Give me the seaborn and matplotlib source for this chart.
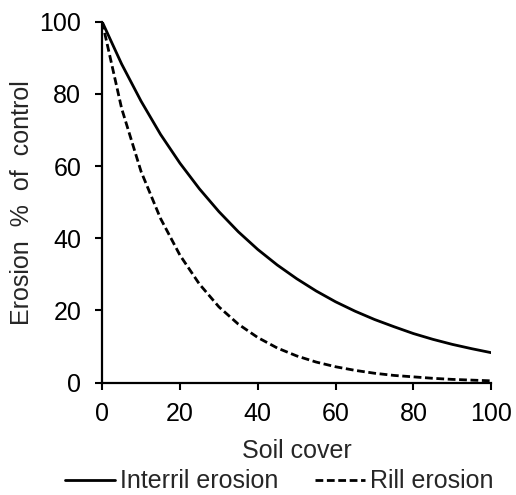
import numpy as np
import pandas as pd
import matplotlib
matplotlib.use("Agg")
import matplotlib.pyplot as plt
import seaborn as sns

# values
soil_cover = [0, 5, 10, 15, 20, 25, 30, 35, 40, 45, 50,
              55, 60, 65, 70, 75, 80, 85, 90, 95, 100]
interril = [100, 88.3, 78.0, 68.8, 60.8, 53.7, 47.4, 41.8, 36.9, 32.6, 28.8,
            25.4, 22.4, 19.8, 17.5, 15.5, 13.6, 12.0, 10.6, 9.4, 8.3]
rill = [100, 76.0, 58.5, 45.5, 35.3, 27.3, 21.0, 16.2, 12.5, 9.6, 7.4,
        5.7, 4.4, 3.4, 2.6, 2.0, 1.6, 1.2, 0.9, 0.7, 0.5]
series_names = ["Interril erosion", "Rill erosion"]

df = pd.DataFrame({
    "Soil cover": soil_cover * 2,
    "Erosion": interril + rill,
    "series": [series_names[0]] * len(soil_cover) + [series_names[1]] * len(soil_cover),
})

sns.set_style("ticks")
plt.rcParams["font.family"] = ["Liberation Sans", "DejaVu Sans"]
fs = 18

fig = plt.figure(figsize=(5.16, 4.95), dpi=100)
ax = fig.add_axes([0.198, 0.227, 0.754, 0.729])

sns.lineplot(data=df, x="Soil cover", y="Erosion", style="series",
             color="black", linewidth=2.0,
             dashes={series_names[0]: "", series_names[1]: (2.8, 1.3)},
             ax=ax, legend=False)

ax.set_xlim(0, 100)
ax.set_ylim(0, 100)
ax.set_xticks([0, 20, 40, 60, 80, 100])
ax.set_yticks([0, 20, 40, 60, 80, 100])
ax.tick_params(axis="both", direction="out", length=5, width=1.5,
               labelsize=fs, color="black", labelcolor="black")
ax.tick_params(axis="x", pad=9)
ax.tick_params(axis="y", pad=10)
for side in ["left", "bottom"]:
    ax.spines[side].set_linewidth(1.6)
    ax.spines[side].set_color("black")
sns.despine(ax=ax)

ax.set_xlabel("Soil cover", fontsize=fs, labelpad=9)
ax.set_ylabel("Erosion  %  of  control", fontsize=fs, labelpad=4)

handles = ax.get_lines()[:2]
leg = ax.legend(handles, series_names, loc="upper center",
                bbox_to_anchor=(0.455, -0.213), ncol=2, frameon=False,
                fontsize=fs, handlelength=2.0, handletextpad=0.2,
                columnspacing=1.5, borderaxespad=0)

fig.savefig("out.png", dpi=100)
